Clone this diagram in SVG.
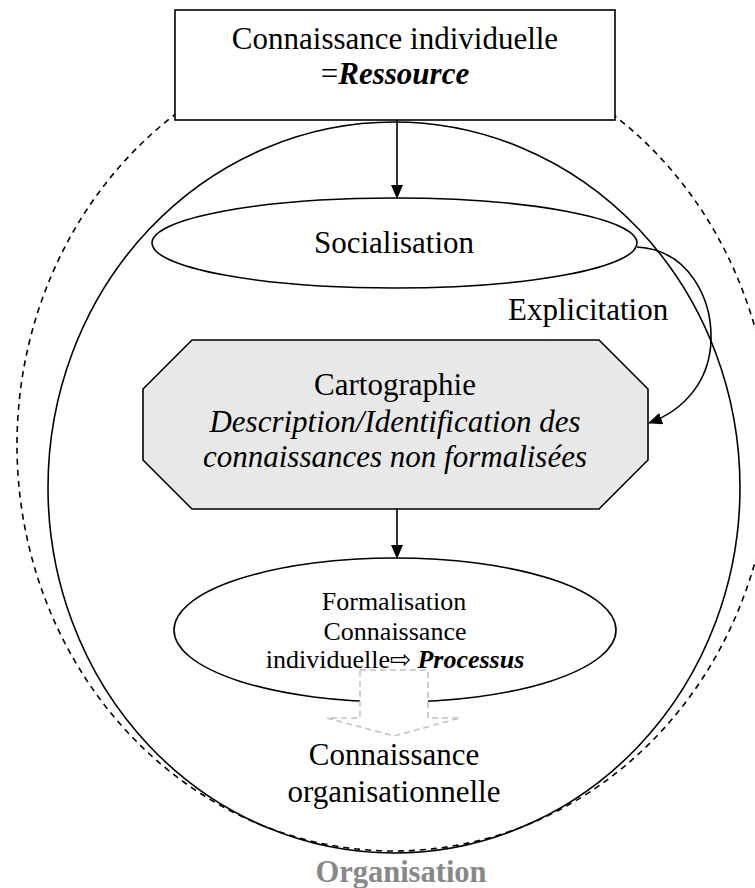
<svg xmlns="http://www.w3.org/2000/svg" width="755" height="888" viewBox="0 0 755 888">
<style>
.t{font-family:"Liberation Serif","Times New Roman",serif;font-size:31px;fill:#000}
.s{font-family:"Liberation Serif","Times New Roman",serif;font-size:26px;fill:#000}
.ln{fill:none;stroke:#000;stroke-width:1.6}
.node{fill:#fff;stroke:#000;stroke-width:1.6}
</style>
<defs>
<marker id="ah" markerWidth="14" markerHeight="12" refX="13" refY="6" orient="auto" markerUnits="userSpaceOnUse">
<path d="M0,0 L14,6 L0,12 Z" fill="#000"/>
</marker>
</defs>
<g id="organisation">
<ellipse cx="394" cy="445" rx="377" ry="406" fill="none" stroke="#000" stroke-width="1.6" stroke-dasharray="6,5"/>
<ellipse cx="394" cy="487.5" rx="346" ry="365.5" fill="none" stroke="#000" stroke-width="1.6"/>
<text x="401" y="882" text-anchor="middle" style="font-family:'Liberation Serif','Times New Roman',serif;font-size:30.5px;font-weight:bold;fill:#888">Organisation</text>
</g>
<g id="connaissance-individuelle">
<rect x="175" y="10" width="440" height="110" class="node"/>
<text class="t" x="395" y="49" text-anchor="middle">Connaissance individuelle</text>
<text class="t" x="395" y="84" text-anchor="middle">=<tspan font-weight="bold" font-style="italic">Ressource</tspan></text>
</g>
<g id="socialisation">
<ellipse cx="394.5" cy="243" rx="242.5" ry="45" class="node"/>
<text class="t" x="394" y="253" text-anchor="middle">Socialisation</text>
</g>
<g id="cartographie">
<polygon points="192,340 599,340 648,389 648,460 599,509 192,509 143,460 143,389" fill="#e8e8e8" stroke="#000" stroke-width="1.6"/>
<text class="t" x="395" y="395" text-anchor="middle">Cartographie</text>
<text class="t" x="395" y="432" text-anchor="middle" font-style="italic">Description/Identification des</text>
<text class="t" x="395" y="467" text-anchor="middle" font-style="italic">connaissances non formalisées</text>
</g>
<g id="formalisation">
<ellipse cx="395" cy="630" rx="221" ry="72" class="node"/>
<text class="s" x="394" y="610" text-anchor="middle">Formalisation</text>
<text class="s" x="395" y="640" text-anchor="middle">Connaissance</text>
<text class="s" x="395" y="668" text-anchor="middle">individuelle<tspan font-family="'DejaVu Sans',sans-serif" font-size="25">⇨</tspan> <tspan font-weight="bold" font-style="italic">Processus</tspan></text>
</g>
<g id="connaissance-organisationnelle">
<polygon points="360,670 428,670 428,718 460,718 394,736 327,718 360,718" fill="#fff" stroke="#c0c0c0" stroke-width="1.5" stroke-dasharray="6,4"/>
<text class="t" x="394" y="765" text-anchor="middle">Connaissance</text>
<text class="t" x="394" y="802" text-anchor="middle">organisationnelle</text>
</g>
<g id="connectors">
<line x1="397" y1="120" x2="397" y2="198" class="ln" marker-end="url(#ah)"/>
<line x1="397" y1="509" x2="397" y2="558" class="ln" marker-end="url(#ah)"/>
<path d="M637,247 C690,250 712,300 711,340 C710,380 685,410 649,423" class="ln" marker-end="url(#ah)"/>
<text class="t" x="508" y="320">Explicitation</text>
</g>
</svg>
